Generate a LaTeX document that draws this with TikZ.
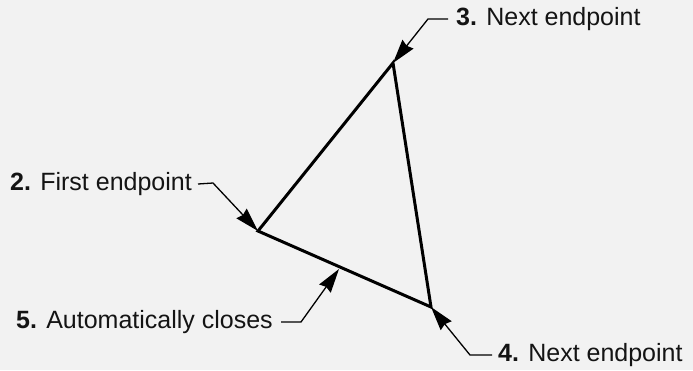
\documentclass[tikz,border=0pt]{standalone}
\usepackage{fontspec}
\setmainfont{Liberation Sans}
\usetikzlibrary{arrows.meta}
\begin{document}
\begin{tikzpicture}[x=1pt,y=-1pt,
  lbl/.style={inner sep=0pt,font=\fontsize{25}{28}\selectfont,text=black!92},
  edge/.style={line width=3pt,line join=miter},
  leader/.style={line width=1.3pt,-{Stealth[length=24pt,width=14pt,inset=2pt]}}]
\fill[black!5] (0,0) rectangle (693,370);
\useasboundingbox (0,0) rectangle (693,370);
\coordinate (p2) at (258,231);
\coordinate (p3) at (393,63);
\coordinate (p4) at (431,307);
\coordinate (p5) at (339,269);
\draw[edge] (p2) -- (p3) -- (p4) -- cycle;
\node[lbl,anchor=west] (l3) at (456,19) {\textbf{3.} Next endpoint};
\node[lbl,anchor=east] (l2) at (192,184) {\textbf{2.} First endpoint};
\node[lbl,anchor=east] (l5) at (273,322) {\textbf{5.} Automatically closes};
\node[lbl,anchor=west] (l4) at (498,355) {\textbf{4.} Next endpoint};
\coordinate (b3) at (428,19);
\coordinate (b2) at (213,183);
\coordinate (b5) at (301,322);
\coordinate (b4) at (470,355);
\draw[leader] ([xshift=-8pt]l3.west) -- (b3) -- (p3);
\draw[leader] ([xshift=6pt]l2.east) -- (b2) -- (p2);
\draw[leader] ([xshift=8pt]l5.east) -- (b5) -- (p5);
\draw[leader] ([xshift=-6pt]l4.west) -- (b4) -- (p4);
\end{tikzpicture}
\end{document}
